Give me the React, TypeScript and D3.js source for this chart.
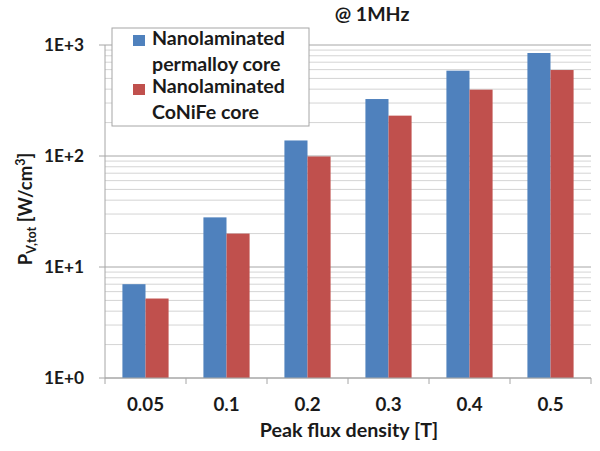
import React from "react";
import * as d3 from "d3";

const categories = ["0.05", "0.1", "0.2", "0.3", "0.4", "0.5"];
const permalloy = [7.0, 28, 138, 326, 587, 847];
const conife = [5.2, 20, 99, 231, 396, 595];
const seriesNames = [["Nanolaminated", "permalloy core"], ["Nanolaminated", "CoNiFe core"]];
const yTicks = [1, 10, 100, 1000];
const yTickLabels = ["1E+0", "1E+1", "1E+2", "1E+3"];

const W = 600, H = 451;
const L = 105, R = 591, T = 45, B = 378;
const FONT = "Lato, 'Open Sans', sans-serif";
const colors = ["#4F81BD", "#C0504D"];

export default function App() {
  const x = d3.scaleBand<string>().domain(categories).range([L, R]).paddingInner(0.43).paddingOuter(0.215);
  const xs = d3.scaleBand<number>().domain([0, 1]).range([0, x.bandwidth()]);
  const y = d3.scaleLog().domain([1, 1000]).range([B, T]);
  const minor: number[] = [];
  for (let d = 1; d < 1000; d *= 10) for (let k = 2; k <= 9; k++) minor.push(d * k);
  const step = x.step();
  const bounds = d3.range(categories.length + 1).map((i) => L + i * step);
  const series = [permalloy, conife];
  return (
    <svg width={W} height={H} style={{ position: "absolute", left: 0, top: 0, background: "#fff" }}>
      <rect x={0} y={0} width={W} height={H} fill="#fff" />
      {minor.map((v) => (
        <line key={"m" + v} x1={L} x2={R} y1={y(v)} y2={y(v)} stroke="#d4d4d4" strokeWidth={1} />
      ))}
      {yTicks.map((v) => (
        <line key={"g" + v} x1={L - 6} x2={R} y1={y(v)} y2={y(v)} stroke="#a6a6a6" strokeWidth={1} />
      ))}
      {series.map((s, si) =>
        s.map((v, i) => (
          <rect key={si + "-" + i} x={(x(categories[i]) as number) + (xs(si) as number)} y={y(v)}
            width={xs.bandwidth()} height={B - y(v)} fill={colors[si]} />
        ))
      )}
      <line x1={L} x2={L} y1={T} y2={B} stroke="#a6a6a6" />
      <line x1={L} x2={R} y1={B} y2={B} stroke="#a6a6a6" />
      {bounds.map((b, i) => (
        <line key={"t" + i} x1={b} x2={b} y1={B} y2={B + 6} stroke="#a6a6a6" />
      ))}
      {yTicks.map((v, i) => (
        <text key={"yl" + v} x={84} y={y(v)} dy="0.35em" textAnchor="end" fontFamily={FONT}
          fontWeight="bold" fontSize={17.3} fill="#1a1a1a">{yTickLabels[i]}</text>
      ))}
      {categories.map((c) => (
        <text key={"xl" + c} x={(x(c) as number) + x.bandwidth() / 2} y={411} textAnchor="middle"
          fontFamily={FONT} fontWeight="bold" fontSize={18.8} fill="#1a1a1a">{c}</text>
      ))}
      <text x={349} y={437} textAnchor="middle" fontFamily={FONT} fontWeight="bold" fontSize={19.7} fill="#1a1a1a">
        Peak flux density [T]
      </text>
      <text transform="translate(32,209) rotate(-90)" textAnchor="middle" fontFamily={FONT}
        fontWeight="bold" fontSize={18.5} fill="#1a1a1a">
        P<tspan fontSize={12.5} dy={4}>V,tot</tspan><tspan dy={-4}> [W/cm</tspan>
        <tspan fontSize={12.5} dy={-7}>3</tspan><tspan dy={7}>]</tspan>
      </text>
      <text x={372} y={21} textAnchor="middle" fontFamily={FONT} fontWeight="bold" fontSize={19.5} fill="#1a1a1a">
        @ 1MHz
      </text>
      <rect x={112} y={28} width={197} height={98} fill="#fff" stroke="#a6a6a6" />
      {seriesNames.map((lines, si) => (
        <g key={"lg" + si}>
          <rect x={133} y={35 + si * 49} width={12} height={11} fill={colors[si]} />
          {lines.map((t, li) => (
            <text key={li} x={152} y={45 + si * 48 + li * 26} fontFamily={FONT} fontWeight="bold"
              fontSize={19.6} fill="#1a1a1a">{t}</text>
          ))}
        </g>
      ))}
    </svg>
  );
}
